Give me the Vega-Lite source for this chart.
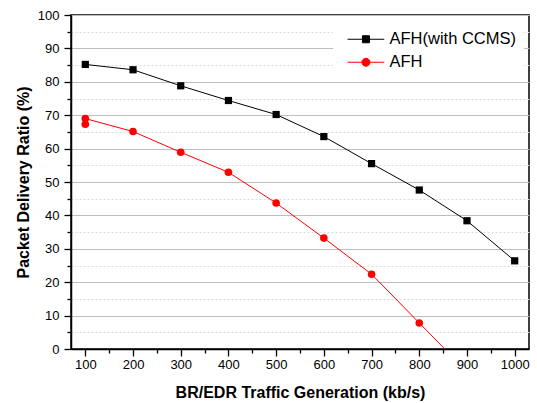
{
  "$schema": "https://vega.github.io/schema/vega-lite/v6.json",
  "width": 458,
  "height": 334,
  "autosize": "none",
  "padding": {"left": 71, "top": 15, "right": 8, "bottom": 54},
  "background": "white",
  "config": {
    "font": "Liberation Sans",
    "view": {"stroke": "black", "strokeWidth": 1.5},
    "axis": {
      "domainColor": "black",
      "domainWidth": 1.5,
      "tickColor": "black",
      "tickWidth": 1.3,
      "labelColor": "black",
      "labelFontSize": 13,
      "labelFont": "Liberation Sans",
      "titleFont": "Liberation Sans",
      "titleFontSize": 16,
      "titleFontWeight": "bold",
      "titleColor": "black"
    }
  },
  "data": {
    "values": [
      {"x": 100, "y": 85.2, "s": "AFH(with CCMS)"},
      {"x": 200, "y": 83.6, "s": "AFH(with CCMS)"},
      {"x": 300, "y": 78.8, "s": "AFH(with CCMS)"},
      {"x": 400, "y": 74.4, "s": "AFH(with CCMS)"},
      {"x": 500, "y": 70.2, "s": "AFH(with CCMS)"},
      {"x": 600, "y": 63.6, "s": "AFH(with CCMS)"},
      {"x": 700, "y": 55.5, "s": "AFH(with CCMS)"},
      {"x": 800, "y": 47.6, "s": "AFH(with CCMS)"},
      {"x": 900, "y": 38.4, "s": "AFH(with CCMS)"},
      {"x": 1000, "y": 26.4, "s": "AFH(with CCMS)"},
      {"x": 100, "y": 69.0, "s": "AFH"},
      {"x": 100, "y": 67.3, "s": "AFH", "extra": true},
      {"x": 200, "y": 65.1, "s": "AFH"},
      {"x": 300, "y": 58.9, "s": "AFH"},
      {"x": 400, "y": 52.9, "s": "AFH"},
      {"x": 500, "y": 43.7, "s": "AFH"},
      {"x": 600, "y": 33.2, "s": "AFH"},
      {"x": 700, "y": 22.4, "s": "AFH"},
      {"x": 800, "y": 7.8, "s": "AFH"},
      {"x": 900, "y": -6.8, "s": "AFH"}
    ]
  },
  "encoding": {
    "x": {
      "field": "x",
      "type": "quantitative",
      "scale": {"domain": [70, 1030], "nice": false, "zero": false},
      "axis": {
        "title": "BR/EDR Traffic Generation (kb/s)",
        "format": "d",
        "values": [100, 150, 200, 250, 300, 350, 400, 450, 500, 550, 600, 650, 700, 750, 800, 850, 900, 950, 1000],
        "labelExpr": "datum.value % 100 === 0 ? datum.label : ''",
        "tickSize": {"condition": {"test": "datum.value % 100 !== 0", "value": 4}, "value": 7},
        "labelPadding": 2,
        "titlePadding": 13,
        "grid": false,
        "labelFlush": false,
        "labelOverlap": false
      }
    },
    "y": {
      "field": "y",
      "type": "quantitative",
      "scale": {"domain": [0, 100], "nice": false},
      "axis": {
        "title": "Packet Delivery Ratio (%)",
        "values": [0, 5, 10, 15, 20, 25, 30, 35, 40, 45, 50, 55, 60, 65, 70, 75, 80, 85, 90, 95, 100],
        "labelExpr": "datum.value % 10 === 0 ? datum.label : ''",
        "tickSize": {"condition": {"test": "datum.value % 10 !== 0", "value": 4}, "value": 7},
        "labelPadding": 5,
        "titlePadding": 6,
        "grid": true,
        "gridColor": {"condition": {"test": "datum.value % 10 !== 0", "value": "#dcdcdc"}, "value": "#bdbdbd"},
        "gridDash": {"condition": {"test": "datum.value % 10 !== 0", "value": [2, 2]}, "value": []},
        "gridWidth": 1,
        "labelFlush": false,
        "labelOverlap": false
      }
    }
  },
  "layer": [
    {
      "transform": [{"filter": "datum.s === 'AFH(with CCMS)'"}],
      "mark": {"type": "line", "strokeWidth": 1, "color": "black", "clip": true}
    },
    {
      "transform": [{"filter": "datum.s === 'AFH' && !datum.extra"}],
      "mark": {"type": "line", "strokeWidth": 1, "color": "#ff0000", "clip": true}
    },
    {
      "transform": [{"filter": "datum.s === 'AFH(with CCMS)'"}],
      "mark": {"type": "point", "shape": "square", "filled": true, "color": "black", "opacity": 1, "size": 52, "clip": true}
    },
    {
      "transform": [{"filter": "datum.s === 'AFH'"}],
      "mark": {"type": "point", "shape": "circle", "filled": true, "color": "#ff0000", "opacity": 1, "size": 58, "clip": true}
    },
    {
      "mark": {"type": "point", "filled": true, "opacity": 1, "size": 0, "strokeWidth": 1, "clip": true},
      "encoding": {
        "fill": {
          "field": "s",
          "type": "nominal",
          "scale": {"domain": ["AFH(with CCMS)", "AFH"], "range": ["black", "#ff0000"]},
          "legend": {
            "title": null,
            "orient": "none",
            "legendX": 262,
            "legendY": 8,
            "fillColor": "white",
            "padding": 8,
            "symbolSize": 100,
            "symbolStrokeWidth": 1,
            "symbolOpacity": 1,
            "labelFontSize": 16.5,
            "labelFont": "Liberation Sans",
            "labelColor": "black",
            "labelOffset": 32,
            "rowPadding": 6,
            "encode": {
              "symbols": {
                "update": {
                  "fill": {"signal": "datum.value === 'AFH' ? '#ff0000' : 'black'"},
                  "fillOpacity": {"value": 1},
                  "size": {"value": 100}
                }
              }
            }
          }
        },
        "stroke": {
          "field": "s",
          "type": "nominal",
          "scale": {"domain": ["AFH(with CCMS)", "AFH"], "range": ["black", "#ff0000"]}
        },
        "shape": {
          "field": "s",
          "type": "nominal",
          "scale": {
            "domain": ["AFH(with CCMS)", "AFH"],
            "range": [
              "M-0.34,0H7M2.64,-0.7H4.04V0.7H2.64Z",
              "M-0.34,0H7M4.14,0A0.8,0.8,0,1,1,2.54,0A0.8,0.8,0,1,1,4.14,0Z"
            ]
          }
        }
      }
    }
  ]
}
